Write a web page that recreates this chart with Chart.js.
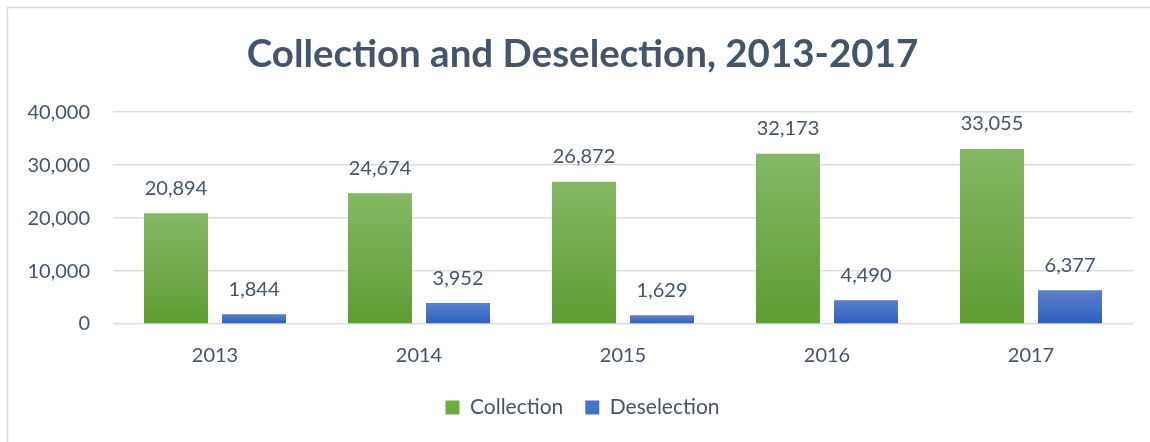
<!DOCTYPE html>
<html>
<head>
<meta charset="utf-8">
<script src="https://cdn.jsdelivr.net/npm/chart.js@4"></script>
<style>
  html, body { margin: 0; padding: 0; background: #ffffff; }
  #wrap { width: 1150px; height: 442px; position: relative; }
</style>
</head>
<body>
<div id="wrap"><canvas id="c" width="1150" height="442"></canvas></div>
<script>
  const years = ['2013', '2014', '2015', '2016', '2017'];
  const collection = [20894, 24674, 26872, 32173, 33055];
  const deselection = [1844, 3952, 1629, 4490, 6377];
  const yTicks = [0, 10000, 20000, 30000, 40000];

  const TEXT = '#44546A';
  const FONT = 'Lato, "Open Sans", "DejaVu Sans", sans-serif';
  const fmt = (v) => v.toLocaleString('en-US');

  // per-bar vertical gradient, like the Excel fill
  function barGradient(top, bottom) {
    return (context) => {
      const chart = context.chart;
      const { ctx, chartArea, scales } = chart;
      if (!chartArea || !scales.y || context.type !== 'data') return bottom;
      const y0 = scales.y.getPixelForValue(context.raw);
      const y1 = scales.y.getPixelForValue(0);
      if (!isFinite(y0) || !isFinite(y1) || y0 === y1) return bottom;
      const g = ctx.createLinearGradient(0, y0, 0, y1);
      g.addColorStop(0, top);
      g.addColorStop(1, bottom);
      return g;
    };
  }

  const frame = {
    id: 'frame',
    beforeDraw(chart) {
      const { ctx } = chart;
      ctx.save();
      ctx.strokeStyle = '#D9D9D9';
      ctx.lineWidth = 1.5;
      ctx.beginPath();
      ctx.moveTo(7.5, chart.height);
      ctx.lineTo(7.5, 7.5);
      ctx.lineTo(chart.width, 7.5);
      ctx.stroke();
      ctx.restore();
    }
  };

  // title and legend sit a little right of the plot centre in the original
  const nudge = {
    id: 'nudge',
    afterLayout(chart) {
      [chart.titleBlock, chart.legend].forEach(b => {
        if (b) { b.left += 16; b.right += 16; }
      });
    }
  };

  const valueLabels = {
    id: 'valueLabels',
    afterDatasetsDraw(chart) {
      const { ctx } = chart;
      ctx.save();
      ctx.fillStyle = TEXT;
      ctx.font = `20px ${FONT}`;
      ctx.textAlign = 'center';
      ctx.textBaseline = 'middle';
      chart.data.datasets.forEach((ds, i) => {
        chart.getDatasetMeta(i).data.forEach((bar, j) => {
          ctx.fillText(fmt(ds.data[j]), bar.x, bar.y - 25);
        });
      });
      ctx.restore();
    }
  };

  const legendColors = ['#6EAD43', '#4472C4'];

  new Chart(document.getElementById('c'), {
    type: 'bar',
    data: {
      labels: years,
      datasets: [
        { label: 'Collection', data: collection, backgroundColor: barGradient('#84B865', '#5E9D31'), borderWidth: 0 },
        { label: 'Deselection', data: deselection, backgroundColor: barGradient('#5A80CE', '#2E5FBD'), borderWidth: 0 }
      ]
    },
    options: {
      responsive: false,
      animation: false,
      devicePixelRatio: 1,
      layout: { padding: { left: 0, right: 17, top: 0, bottom: 14 } },
      datasets: { bar: { barPercentage: 0.82, categoryPercentage: 0.765 } },
      scales: {
        x: {
          afterFit: (s) => { s.height = s.height - 13; },
          grid: { display: false, drawTicks: false },
          border: { display: false },
          ticks: { color: TEXT, font: { family: FONT, size: 20 }, padding: 20 }
        },
        y: {
          min: 0,
          max: 40000,
          afterFit: (s) => { s.width = 113; },
          afterBuildTicks: (s) => { s.ticks = yTicks.map(v => ({ value: v })); },
          grid: { color: '#D9DDE3', lineWidth: 1.5, drawTicks: false },
          border: { display: false },
          ticks: { color: TEXT, font: { family: FONT, size: 20 }, padding: 23, callback: (v) => fmt(v) }
        }
      },
      plugins: {
        title: {
          display: true,
          text: 'Collection and Deselection, 2013-2017',
          color: TEXT,
          font: { family: FONT, size: 38.5, weight: 'bold' },
          padding: { top: 31, bottom: 35 }
        },
        legend: {
          position: 'bottom',
          labels: {
            color: TEXT,
            font: { family: FONT, size: 21 },
            boxWidth: 14,
            boxHeight: 14,
            padding: 22,
            generateLabels: (chart) => chart.data.datasets.map((ds, i) => ({
              text: ds.label, fillStyle: legendColors[i], strokeStyle: legendColors[i],
              lineWidth: 0, datasetIndex: i, fontColor: TEXT, hidden: false
            }))
          }
        },
        tooltip: { enabled: false }
      }
    },
    plugins: [frame, nudge, valueLabels]
  });
</script>
</body>
</html>
